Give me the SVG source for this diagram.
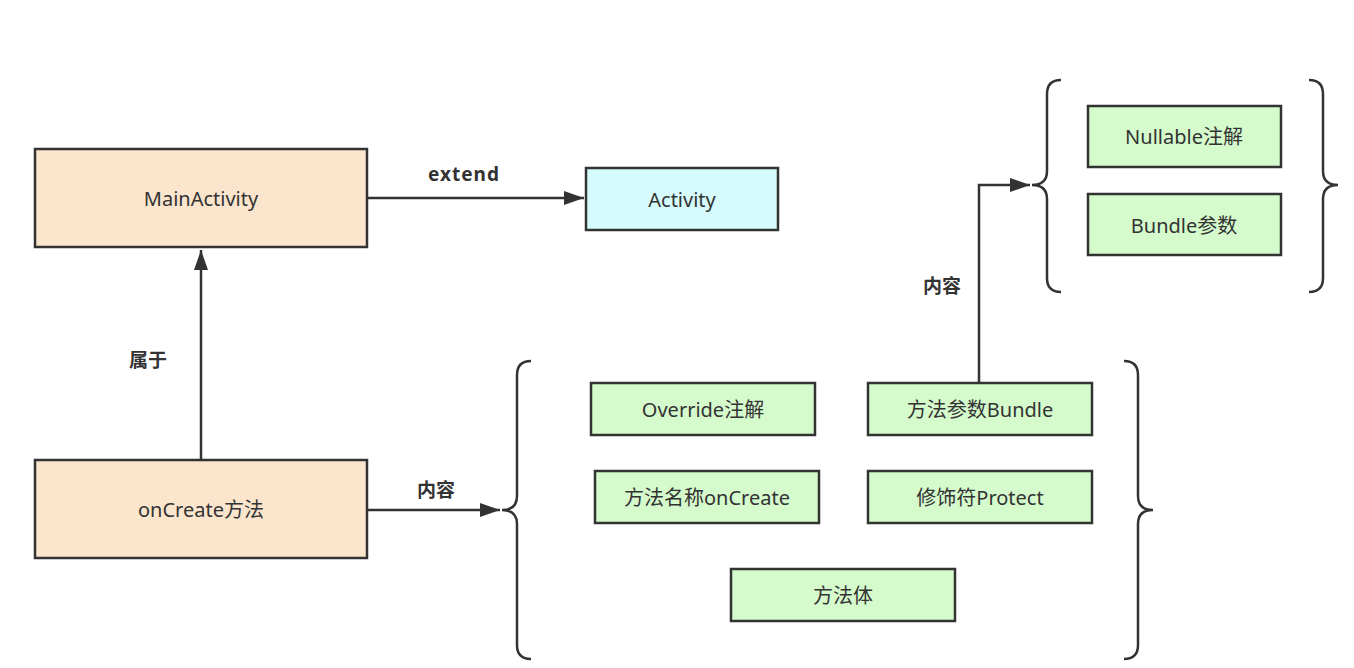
<svg xmlns="http://www.w3.org/2000/svg" width="1354" height="668" viewBox="0 0 1354 668">
<defs>
<style>
.box{stroke:#333;stroke-width:2.5}
.peach{fill:#fbe5cd}
.cyan{fill:#d5fbfd}
.green{fill:#d5fbcd}
.t{font-family:"Noto Sans","Noto Sans CJK SC",sans-serif;font-size:20px;fill:#333;text-anchor:middle;dominant-baseline:central}
.lbl{font-family:"Noto Sans","Noto Sans CJK SC",sans-serif;font-size:19px;font-weight:bold;fill:#333;text-anchor:middle;dominant-baseline:central}
.line{fill:none;stroke:#333;stroke-width:2.5}
.brace{fill:none;stroke:#333;stroke-width:2.5}
</style>
<marker id="arr" viewBox="0 0 20 14" refX="20" refY="7" markerWidth="20" markerHeight="14" markerUnits="userSpaceOnUse" orient="auto">
<path d="M0,0 L20,7 L0,14 Z" fill="#333"/>
</marker>
</defs>
<rect width="1354" height="668" fill="#fff"/>
<g id="connectors">
<path class="line" d="M367,198 H584" marker-end="url(#arr)"/>
<path class="line" d="M201,460 V250" marker-end="url(#arr)"/>
<path class="line" d="M367,510 H500" marker-end="url(#arr)"/>
<path class="line" d="M979,383 V185 H1030" marker-end="url(#arr)"/>
<text class="lbl" x="464" y="174" letter-spacing="1">extend</text>
<text class="lbl" x="148" y="360">属于</text>
<text class="lbl" x="436" y="490">内容</text>
<text class="lbl" x="942" y="286">内容</text>
</g>
<g id="brace-bottom-left"><path class="brace" d="M531,361 Q517,361 517,375 V496 Q517,510 502,510 Q517,510 517,524 V645 Q517,659 531,659"/></g>
<g id="brace-bottom-right"><path class="brace" d="M1124,361 Q1138,361 1138,375 V496 Q1138,510 1153,510 Q1138,510 1138,524 V645 Q1138,659 1124,659"/></g>
<g id="brace-top-left"><path class="brace" d="M1061,80 Q1047,80 1047,94 V171 Q1047,185 1032,185 Q1047,185 1047,199 V278 Q1047,292 1061,292"/></g>
<g id="brace-top-right"><path class="brace" d="M1309,80 Q1323,80 1323,94 V171 Q1323,185 1338,185 Q1323,185 1323,199 V278 Q1323,292 1309,292"/></g>
<g id="main-activity"><rect class="box peach" x="35" y="149" width="332" height="98"/><text class="t" x="201" y="198">MainActivity</text></g>
<g id="activity"><rect class="box cyan" x="586" y="168" width="192" height="62"/><text class="t" x="682" y="199">Activity</text></g>
<g id="oncreate"><rect class="box peach" x="35" y="460" width="332" height="98"/><text class="t" x="201" y="509">onCreate方法</text></g>
<g id="override"><rect class="box green" x="591" y="383" width="224" height="52"/><text class="t" x="703" y="409">Override注解</text></g>
<g id="param-bundle"><rect class="box green" x="868" y="383" width="224" height="52"/><text class="t" x="980" y="409">方法参数Bundle</text></g>
<g id="method-name"><rect class="box green" x="595" y="471" width="224" height="52"/><text class="t" x="707" y="497">方法名称onCreate</text></g>
<g id="modifier"><rect class="box green" x="868" y="471" width="224" height="52"/><text class="t" x="980" y="497">修饰符Protect</text></g>
<g id="method-body"><rect class="box green" x="731" y="569" width="224" height="52"/><text class="t" x="843" y="595">方法体</text></g>
<g id="nullable"><rect class="box green" x="1088" y="106" width="193" height="61"/><text class="t" x="1184" y="136">Nullable注解</text></g>
<g id="bundle-param"><rect class="box green" x="1088" y="194" width="193" height="61"/><text class="t" x="1184" y="225">Bundle参数</text></g>
</svg>
